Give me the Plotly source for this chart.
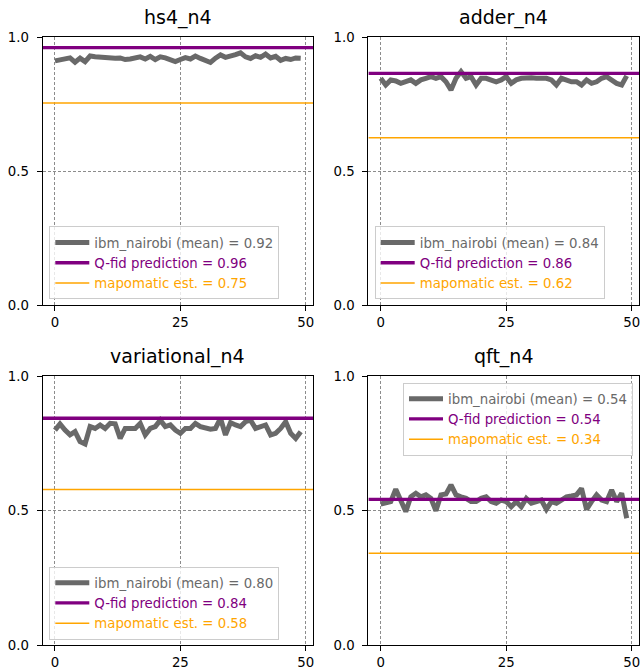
import plotly.graph_objects as go

# ---- data -------------------------------------------------------------
circuits = ["hs4_n4", "adder_n4", "variational_n4", "qft_n4"]
runs = list(range(50))

fid_hs4 = [0.911, 0.914, 0.918, 0.922, 0.906, 0.921, 0.908, 0.929, 0.926, 0.924,
           0.925, 0.923, 0.921, 0.922, 0.916, 0.918, 0.921, 0.926, 0.918, 0.928,
           0.916, 0.926, 0.922, 0.916, 0.908, 0.916, 0.923, 0.918, 0.929, 0.920,
           0.914, 0.905, 0.921, 0.933, 0.924, 0.928, 0.934, 0.941, 0.926, 0.920,
           0.930, 0.924, 0.936, 0.922, 0.928, 0.913, 0.920, 0.916, 0.922, 0.921]
fid_adder = [0.846, 0.821, 0.840, 0.836, 0.827, 0.833, 0.840, 0.827, 0.840, 0.846,
             0.852, 0.846, 0.852, 0.833, 0.802, 0.846, 0.871, 0.846, 0.852, 0.821,
             0.846, 0.846, 0.840, 0.833, 0.840, 0.852, 0.827, 0.840, 0.846, 0.848,
             0.848, 0.846, 0.848, 0.846, 0.840, 0.821, 0.846, 0.840, 0.833, 0.833,
             0.821, 0.840, 0.827, 0.833, 0.846, 0.852, 0.840, 0.827, 0.821, 0.855]
fid_variational = [0.799, 0.822, 0.799, 0.781, 0.793, 0.756, 0.747, 0.812, 0.805, 0.818,
                   0.805, 0.824, 0.822, 0.768, 0.805, 0.805, 0.805, 0.824, 0.781, 0.805,
                   0.812, 0.836, 0.812, 0.818, 0.799, 0.787, 0.805, 0.805, 0.824, 0.812,
                   0.805, 0.802, 0.805, 0.843, 0.781, 0.827, 0.818, 0.812, 0.830, 0.836,
                   0.805, 0.812, 0.818, 0.781, 0.787, 0.805, 0.830, 0.787, 0.768, 0.793]
fid_qft = [0.524, 0.529, 0.533, 0.579, 0.539, 0.496, 0.551, 0.564, 0.551, 0.558,
           0.545, 0.499, 0.558, 0.561, 0.595, 0.558, 0.551, 0.545, 0.533, 0.533,
           0.545, 0.551, 0.533, 0.527, 0.539, 0.533, 0.514, 0.533, 0.514, 0.545,
           0.527, 0.533, 0.539, 0.504, 0.533, 0.527, 0.539, 0.551, 0.554, 0.558,
           0.582, 0.504, 0.533, 0.558, 0.539, 0.533, 0.576, 0.533, 0.564, 0.471]
measured = [fid_hs4, fid_adder, fid_variational, fid_qft]

qfid_pred = [0.96, 0.864, 0.843, 0.541]
mapomatic_est = [0.754, 0.624, 0.578, 0.341]

x_ticks = [0, 25, 50]
y_ticks = [0.0, 0.5, 1.0]

# ---- style ------------------------------------------------------------
W, H = 640, 671
FONT = "DejaVu Sans"
C_MEAS, C_QFID, C_MAPO = "#696969", "#800080", "#ffa500"
XLIM = [-2.45, 51.45]
YLIM = [0.0, 1.0]

# plot-area boxes in pixels: (left, right, top, bottom)
boxes = [(42.7, 313.0, 37.0, 305.0), (368.4, 639.0, 37.0, 305.0),
         (42.7, 313.0, 376.0, 645.0), (368.4, 639.0, 376.0, 645.0)]
# legend anchor in pixels (left/right, top/bottom)
legend_pos = [("left", 49.3, "bottom", 299.3), ("left", 374.7, "bottom", 299.3),
              ("left", 49.3, "bottom", 639.5), ("right", 633.0, "top", 382.5)]

fig = go.Figure()
layout = dict(width=W, height=H,
              margin=dict(l=0, r=0, t=0, b=0, pad=0, autoexpand=False),
              plot_bgcolor="white", paper_bgcolor="white",
              font=dict(family=FONT, size=13.3, color="black"),
              showlegend=True, annotations=[])


def span(color, text):
    return f'<span style="color:{color}">{text}</span>'


for k, name in enumerate(circuits):
    sx = "" if k == 0 else str(k + 1)
    xa, ya = "x" + sx, "y" + sx
    leg = "legend" if k == 0 else f"legend{k + 1}"
    vals = measured[k]
    mean = sum(vals) / len(vals)

    fig.add_trace(go.Scatter(
        x=runs, y=vals, mode="lines", xaxis=xa, yaxis=ya, legend=leg,
        line=dict(color=C_MEAS, width=5),
        name=span(C_MEAS, f"ibm_nairobi (mean) = {mean:.2f}")))
    fig.add_trace(go.Scatter(
        x=XLIM, y=[qfid_pred[k]] * 2, mode="lines", xaxis=xa, yaxis=ya, legend=leg,
        line=dict(color=C_QFID, width=3.3),
        name=span(C_QFID, f"Q-fid prediction = {qfid_pred[k]:.2f}")))
    fig.add_trace(go.Scatter(
        x=XLIM, y=[mapomatic_est[k]] * 2, mode="lines", xaxis=xa, yaxis=ya, legend=leg,
        line=dict(color=C_MAPO, width=1.4),
        name=span(C_MAPO, f"mapomatic est. = {mapomatic_est[k]:.2f}")))

    l, r, t, b = boxes[k]
    common = dict(showline=True, mirror=True, linecolor="black", linewidth=1.1,
                  ticks="outside", ticklen=5, tickwidth=1.1, tickcolor="black",
                  showgrid=True, gridcolor="#8c8c8c", gridwidth=0.8,
                  griddash="3px,2px", zeroline=False, automargin=False,
                  ticklabeloverflow="allow",
                  tickfont=dict(family=FONT, size=13.3, color="black"))
    layout["xaxis" + sx] = dict(common, domain=[l / W, r / W], range=XLIM,
                                anchor=ya, tickvals=x_ticks, ticklabelstandoff=0)
    layout["yaxis" + sx] = dict(common, domain=[1 - b / H, 1 - t / H], range=YLIM,
                                anchor=xa, tickvals=y_ticks, tickformat=".1f",
                                ticklabelstandoff=5)

    xanc, lx, yanc, ly = legend_pos[k]
    layout[leg] = dict(x=lx / W, xanchor=xanc, y=1 - ly / H, yanchor=yanc,
                       bgcolor="rgba(255,255,255,0.8)", bordercolor="#cccccc",
                       borderwidth=1, font=dict(family=FONT, size=13.3),
                       tracegroupgap=0, itemwidth=34)

    layout["annotations"].append(dict(
        text=name, xref="paper", yref="paper", x=(l + r) / 2 / W, y=1 - t / H,
        xanchor="center", yanchor="bottom", yshift=6, showarrow=False,
        font=dict(family=FONT, size=19, color="black")))

fig.update_layout(**layout)
fig.write_html("out.html")
